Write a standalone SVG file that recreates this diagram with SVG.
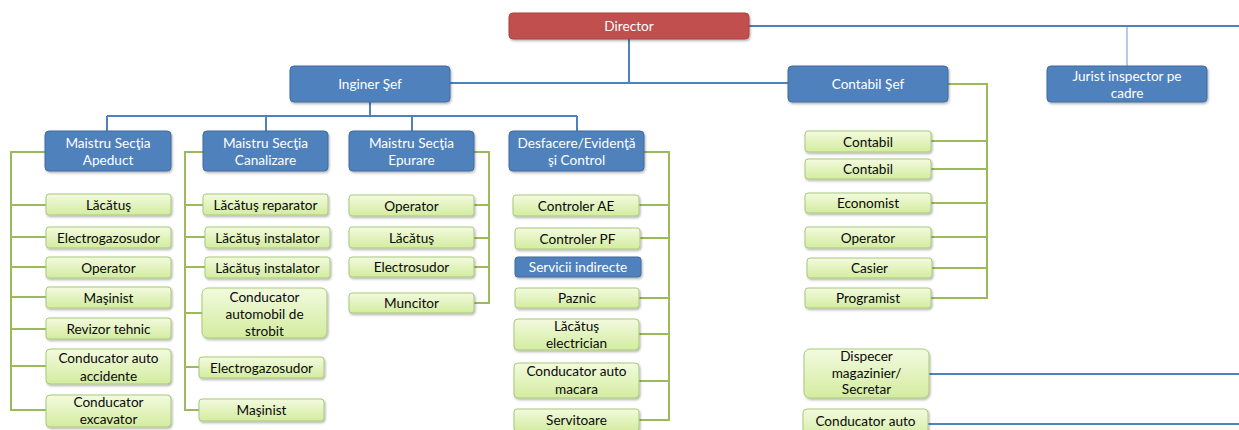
<svg xmlns="http://www.w3.org/2000/svg" width="1239" height="430" viewBox="0 0 1239 430">
<defs>
<linearGradient id="gg" x1="0" y1="0" x2="0" y2="1">
<stop offset="0" stop-color="#F3FADF"/>
<stop offset="1" stop-color="#D3EC9F"/>
</linearGradient>
<filter id="sh" x="-10%" y="-20%" width="125%" height="150%">
<feDropShadow dx="1" dy="1.5" stdDeviation="1" flood-color="#000" flood-opacity="0.3"/>
</filter>
<style>
text{font-family:Lato,"Open Sans","Liberation Sans",sans-serif;font-size:13.6px;text-anchor:middle}
.r{fill:#C0504D;stroke:#A9423F;stroke-width:1;filter:url(#sh)}
.b{fill:#4F81BD;stroke:#3F6C9F;stroke-width:1;filter:url(#sh)}
.g{fill:url(#gg);stroke:#A8C97B;stroke-width:1;filter:url(#sh)}
.tw{fill:#FFFFFF}
.tk{fill:#0A0A0A}
.lb{fill:none;stroke:#4F81BD;stroke-width:2}
.ll{fill:none;stroke:#B7CCE6;stroke-width:2}
.lg{fill:none;stroke:#9BBB59;stroke-width:2}
</style>
</defs>

<g id="connectors">
<path class="lb" d="M749 26H1239M629 39V83M450 83H788"/>
<path class="ll" d="M1127 27V66"/>
<path class="lb" d="M370 102V116M107 116H577M107 116V131M266 116V131M412 116V131M577 116V131"/>
<path class="lb" d="M929 374H1239M928 424H1239"/>
<path class="lg" d="M45 152H11V410H46M11 205H46M11 237H46M11 267H46M11 297H46M11 329H46M11 366H46"/>
<path class="lg" d="M203 152H185V410H199M185 205H203M185 237H205M185 267H205M185 313H202M185 367H199"/>
<path class="lg" d="M474 152H489V303H474M489 205H474M489 238H474M489 267H474"/>
<path class="lg" d="M644 152H669V420H639M669 205H639M669 238H640M669 298H639M669 334H639M669 381H639"/>
<path class="lg" d="M948 84H987V298H931M987 141H931M987 169H931M987 203H931M987 237H931M987 268H932"/>
</g>

<g id="director"><rect class="r" x="509" y="13" width="240" height="26" rx="4"/><text class="tw" x="629" y="30.5">Director</text></g>
<g id="inginer-sef"><rect class="b" x="290" y="66" width="160" height="36" rx="4"/><text class="tw" x="370" y="88.5">Inginer Şef</text></g>
<g id="contabil-sef"><rect class="b" x="788" y="66" width="160" height="36" rx="4"/><text class="tw" x="868" y="88.5">Contabil Şef</text></g>
<g id="jurist"><rect class="b" x="1047" y="66" width="160" height="36" rx="4"/><text class="tw" x="1127" y="80.5">Jurist inspector pe</text><text class="tw" x="1127" y="97.5">cadre</text></g>

<g id="maistru-apeduct"><rect class="b" x="45" y="131" width="126" height="40" rx="4"/><text class="tw" x="108" y="147.5">Maistru Secţia</text><text class="tw" x="108" y="164.5">Apeduct</text></g>
<g id="maistru-canalizare"><rect class="b" x="203" y="131" width="125" height="40" rx="4"/><text class="tw" x="265.5" y="147.5">Maistru Secţia</text><text class="tw" x="265.5" y="164.5">Canalizare</text></g>
<g id="maistru-epurare"><rect class="b" x="349" y="131" width="125" height="40" rx="4"/><text class="tw" x="411.5" y="147.5">Maistru Secţia</text><text class="tw" x="411.5" y="164.5">Epurare</text></g>
<g id="desfacere"><rect class="b" x="509" y="131" width="135" height="40" rx="4"/><text class="tw" x="576.5" y="147.5">Desfacere/Evidenţă</text><text class="tw" x="576.5" y="164.5">şi Control</text></g>

<g id="ap-lacatus"><rect class="g" x="46" y="194" width="125" height="21" rx="3"/><text class="tk" x="108.5" y="209.5">Lăcătuş</text></g>
<g id="ap-electrogazosudor"><rect class="g" x="46" y="227" width="125" height="21" rx="3"/><text class="tk" x="108.5" y="242.5">Electrogazosudor</text></g>
<g id="ap-operator"><rect class="g" x="46" y="257" width="125" height="21" rx="3"/><text class="tk" x="108.5" y="272.5">Operator</text></g>
<g id="ap-masinist"><rect class="g" x="46" y="287" width="125" height="21" rx="3"/><text class="tk" x="108.5" y="302.5">Maşinist</text></g>
<g id="ap-revizor"><rect class="g" x="46" y="318" width="125" height="21" rx="3"/><text class="tk" x="108.5" y="333.5">Revizor tehnic</text></g>
<g id="ap-cond-accidente"><rect class="g" x="46" y="349" width="125" height="35" rx="4"/><text class="tk" x="108.5" y="362.5">Conducator auto</text><text class="tk" x="108.5" y="380.5">accidente</text></g>
<g id="ap-cond-excavator"><rect class="g" x="46" y="395" width="125" height="32" rx="4"/><text class="tk" x="108.5" y="406.5">Conducator</text><text class="tk" x="108.5" y="423.5">excavator</text></g>

<g id="ca-lacatus-reparator"><rect class="g" x="203" y="194" width="125" height="21" rx="3"/><text class="tk" x="265.5" y="209.5">Lăcătuş reparator</text></g>
<g id="ca-lacatus-instalator-1"><rect class="g" x="205" y="227" width="125" height="21" rx="3"/><text class="tk" x="267.5" y="242.5">Lăcătuş instalator</text></g>
<g id="ca-lacatus-instalator-2"><rect class="g" x="205" y="257" width="125" height="21" rx="3"/><text class="tk" x="267.5" y="272.5">Lăcătuş instalator</text></g>
<g id="ca-cond-strobit"><rect class="g" x="202" y="288" width="125" height="50" rx="6"/><text class="tk" x="264.5" y="301.5">Conducator</text><text class="tk" x="264.5" y="319">automobil de</text><text class="tk" x="264.5" y="336">strobit</text></g>
<g id="ca-electrogazosudor"><rect class="g" x="199" y="357" width="125" height="21" rx="3"/><text class="tk" x="261.5" y="372.5">Electrogazosudor</text></g>
<g id="ca-masinist"><rect class="g" x="199" y="399" width="125" height="22" rx="3"/><text class="tk" x="261.5" y="415">Maşinist</text></g>

<g id="ep-operator"><rect class="g" x="349" y="195" width="125" height="21" rx="3"/><text class="tk" x="411.5" y="210.5">Operator</text></g>
<g id="ep-lacatus"><rect class="g" x="349" y="227" width="125" height="21" rx="3"/><text class="tk" x="411.5" y="242.5">Lăcătuş</text></g>
<g id="ep-electrosudor"><rect class="g" x="349" y="257" width="125" height="20" rx="3"/><text class="tk" x="411.5" y="272">Electrosudor</text></g>
<g id="ep-muncitor"><rect class="g" x="349" y="293" width="125" height="20" rx="3"/><text class="tk" x="411.5" y="308">Muncitor</text></g>

<g id="de-controler-ae"><rect class="g" x="513" y="195" width="126" height="21" rx="3"/><text class="tk" x="576" y="210.5">Controler AE</text></g>
<g id="de-controler-pf"><rect class="g" x="515" y="228" width="125" height="21" rx="3"/><text class="tk" x="577.5" y="243.5">Controler PF</text></g>
<g id="de-servicii"><rect class="b" x="515" y="257" width="126" height="20" rx="3"/><text class="tw" x="578" y="272">Servicii indirecte</text></g>
<g id="de-paznic"><rect class="g" x="515" y="288" width="124" height="20" rx="3"/><text class="tk" x="577" y="303">Paznic</text></g>
<g id="de-lacatus-electrician"><rect class="g" x="514" y="319" width="125" height="31" rx="4"/><text class="tk" x="576.5" y="330.5">Lăcătuş</text><text class="tk" x="576.5" y="347.5">electrician</text></g>
<g id="de-cond-macara"><rect class="g" x="514" y="363" width="125" height="35" rx="4"/><text class="tk" x="576.5" y="375.5">Conducator auto</text><text class="tk" x="576.5" y="393.5">macara</text></g>
<g id="de-servitoare"><rect class="g" x="514" y="409" width="125" height="22" rx="3"/><text class="tk" x="576.5" y="425">Servitoare</text></g>

<g id="co-contabil-1"><rect class="g" x="805" y="131" width="126" height="21" rx="3"/><text class="tk" x="868" y="146.5">Contabil</text></g>
<g id="co-contabil-2"><rect class="g" x="805" y="159" width="126" height="20" rx="3"/><text class="tk" x="868" y="174">Contabil</text></g>
<g id="co-economist"><rect class="g" x="805" y="193" width="126" height="20" rx="3"/><text class="tk" x="868" y="208">Economist</text></g>
<g id="co-operator"><rect class="g" x="805" y="227" width="126" height="21" rx="3"/><text class="tk" x="868" y="242.5">Operator</text></g>
<g id="co-casier"><rect class="g" x="807" y="258" width="125" height="20" rx="3"/><text class="tk" x="869.5" y="273">Casier</text></g>
<g id="co-programist"><rect class="g" x="805" y="288" width="126" height="20" rx="3"/><text class="tk" x="868" y="303">Programist</text></g>

<g id="dispecer"><rect class="g" x="804" y="349" width="125" height="49" rx="6"/><text class="tk" x="866.5" y="360.5">Dispecer</text><text class="tk" x="866.5" y="377.5">magazinier/</text><text class="tk" x="866.5" y="394">Secretar</text></g>
<g id="conducator-auto"><rect class="g" x="803" y="409" width="125" height="30" rx="4"/><text class="tk" x="865.5" y="426">Conducator auto</text></g>
</svg>
